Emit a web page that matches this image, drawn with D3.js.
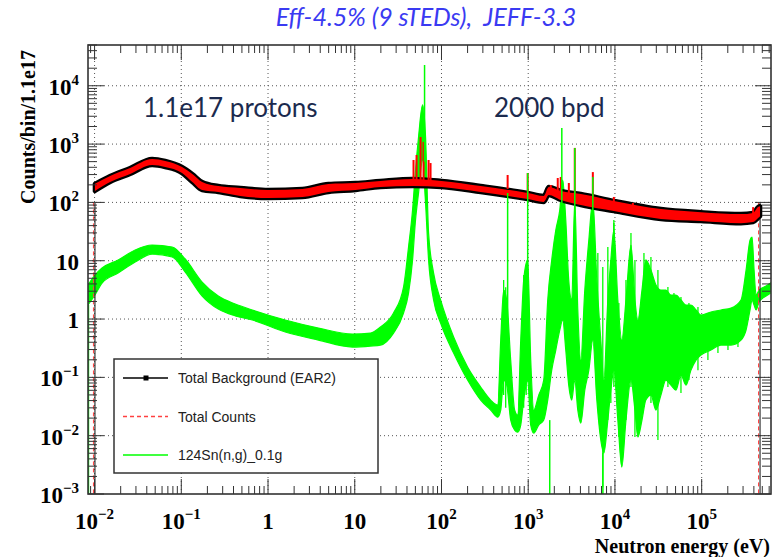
<!DOCTYPE html>
<html lang="en">
<head>
<meta charset="UTF-8">
<title>124Sn(n,g) - Eff-4.5% (9 sTEDs), JEFF-3.3</title>
<script src="https://cdn.jsdelivr.net/npm/d3@7"></script>
<style>
  body { margin: 0; background: #fff; }
  text { white-space: pre; }
</style>
</head>
<body>
<svg id="chart" width="780" height="557"></svg>
<script>
// values
// Total Counts band: [energy eV, low, high]
var totalBand = [
  [0.0101, 157, 208], [0.0151, 224, 284], [0.0257, 307, 389], [0.0461, 438, 555],
  [0.0652, 405, 513], [0.102, 319, 405], [0.134, 224, 307], [0.174, 163, 224],
  [0.267, 151, 191], [0.479, 129, 177], [1.0, 119, 163], [2.49, 124, 170],
  [4.97, 151, 207], [10.2, 163, 215], [19.8, 184, 233], [46.4, 191, 252],
  [100, 184, 233], [283, 151, 191], [986, 114, 145], [1510, 102, 129],
  [1725, 134, 184], [2374, 110, 157], [4040, 90, 139], [9710, 71, 106],
  [33900, 52, 77], [98000, 48, 68], [284000, 44, 63], [392000, 46, 66],
  [447000, 54, 83], [471000, 58, 86]
];
// red spikes where the Sn resonances stick out: [energy, base, peak]
var totalSpikes = [
  [47.6, 240, 534], [51.6, 240, 650], [57.4, 240, 1324], [62.1, 240, 1090],
  [71.0, 230, 534], [74.8, 230, 473], [579, 170, 295], [986, 140, 319],
  [1820, 150, 199], [2190, 150, 262], [2370, 150, 273], [2940, 140, 215],
  [3440, 130, 860], [5560, 110, 331], [9710, 100, 124], [16100, 85, 98],
  [392000, 60, 83]
];
// histogram edges of background / total
var histEdges = [0.0101, 471000];

// 124Sn(n,g) band: [energy, low, high]
var snBand = [
  [0.0084, 1.74, 3.83], [0.0101, 2.58, 5.68], [0.0122, 4.14, 7.50], [0.0187, 6.15, 10.3],
  [0.0294, 9.50, 15.3], [0.0461, 13.0, 18.6], [0.0785, 11.6, 17.2], [0.111, 6.40, 10.7],
  [0.174, 2.48, 4.31], [0.267, 1.48, 2.48], [0.419, 1.13, 1.81], [0.659, 0.962, 1.43],
  [1.58, 0.599, 0.962], [3.81, 0.436, 0.701], [9.40, 0.331, 0.553], [15.2, 0.344, 0.575],
  [19.8, 0.358, 0.729], [28.0, 0.575, 1.27], [36.5, 1.27, 3.54], [41.7, 2.79, 17.2],
  [46.4, 10.3, 74.1], [50.2, 49.9, 359], [54.4, 145, 1324], [60.5, 534, 4690],
  [65.5, 97.7, 1324], [71.0, 10.3, 29.9], [81.1, 2.12, 6.15], [97.7, 0.854, 2.12],
  [138, 0.261, 0.491], [200, 0.0899, 0.150], [283, 0.0408, 0.0682], [369, 0.0275, 0.0408],
  [445, 0.0208, 0.0335], [482, 0.0275, 0.436], [521, 0.0899, 3.14], [565, 0.0738, 2.12],
  [628, 0.0185, 0.198], [698, 0.0125, 0.0275], [757, 0.0115, 0.0226], [820, 0.0152, 0.436],
  [887, 0.0408, 4.67], [986, 0.0899, 10.3], [1069, 0.0152, 0.198], [1159, 0.0111, 0.0275],
  [1322, 0.0152, 0.0497], [1510, 0.0185, 0.0899], [1679, 0.0408, 2.12], [1867, 0.133, 10.3],
  [2080, 0.294, 33.6], [2311, 0.648, 74.1], [2500, 0.962, 242], [2710, 0.294, 49.9],
  [2931, 0.0738, 4.67], [3177, 0.0408, 2.12], [3443, 0.0899, 110], [3730, 0.0275, 1.43],
  [4040, 0.0164, 0.198], [4490, 0.0605, 3.14], [5000, 0.133, 22.6], [5560, 0.436, 110],
  [6180, 0.0408, 4.67], [6870, 0.00841, 0.436], [7450, 0.00503, 0.0899], [8280, 0.0185, 2.12],
  [8970, 0.0605, 10.3], [9710, 0.133, 33.6], [10800, 0.0185, 2.12], [12000, 0.00289, 0.436],
  [13400, 0.0185, 2.12], [15300, 0.0899, 18.6], [17000, 0.0275, 2.12], [18400, 0.00946, 0.962],
  [20500, 0.0185, 3.14], [22700, 0.0408, 10.3], [26000, 0.0497, 6.92], [29700, 0.0275, 3.83],
  [33900, 0.0497, 3.14], [38700, 0.0899, 3.14], [44200, 0.0738, 2.58], [50500, 0.0605, 2.58],
  [57700, 0.109, 2.12], [65900, 0.0738, 1.74], [75300, 0.133, 1.74], [86000, 0.198, 1.43],
  [98200, 0.241, 1.17], [128000, 0.294, 1.32], [167000, 0.358, 1.43], [218000, 0.358, 1.54],
  [284000, 0.436, 2.12], [325000, 0.648, 6.92], [361000, 1.43, 22.6], [381000, 2.12, 25.5],
  [402000, 1.74, 6.92], [424000, 1.43, 2.58], [459000, 1.96, 3.14], [553000, 2.48, 3.68],
  [649000, 2.90, 4.31]
];
// narrow resonance peaks: [energy, base, peak]
var snSpikes = [
  [63.8, 500, 22700], [579, 0.1, 145], [986, 0.1, 319], [2440, 1, 1890],
  [3443, 0.1, 857], [5560, 0.5, 273], [9710, 0.2, 44.3]
];
// single noisy bins in the resonance region: [energy, low, high]
var snBins = [
  [521, 0.05, 4.67], [550, 0.03, 3.5], [887, 0.03, 5.7], [948, 0.05, 8.4],
  [6350, 0.0682, 13.6], [7240, 0.00131, 7.80], [8280, 0.0185, 17.2], [8970, 0.0362, 10.3],
  [9710, 0.0682, 49.9], [11100, 0.00946, 1.88], [13400, 0.0185, 4.67], [15300, 0.0682, 29.9],
  [17000, 0.00946, 10.3], [21600, 0.0310, 13.6], [26000, 0.0362, 11.6], [31300, 0.00841, 6.92],
  [40800, 0.0682, 3.54], [47900, 0.119, 2.79], [57700, 0.0538, 2.38], [71300, 0.0899, 1.88],
  [90600, 0.133, 1.61], [118000, 0.198, 1.27], [154000, 0.261, 1.08], [201000, 0.294, 1.43],
  [262000, 0.331, 1.43]
];
// bins that fall to zero: [energy, from]
var snDrops = [[0.0085, 1.74], [1770, 0.0185], [7260, 0.00503]];

var xLabels = [[0.01, "10", "\u22122"], [0.1, "10", "\u22121"], [1, "1", ""], [10, "10", ""],
               [100, "10", "2"], [1000, "10", "3"], [10000, "10", "4"], [100000, "10", "5"]];
var yLabels = [[0.001, "10", "\u22123"], [0.01, "10", "\u22122"], [0.1, "10", "\u22121"], [1, "1", ""],
               [10, "10", ""], [100, "10", "2"], [1000, "10", "3"], [10000, "10", "4"]];

var svg = d3.select("#chart");
var padL = 88, padR = 771, padT = 45, padB = 494;

var x = d3.scaleLog().domain([0.0084, 6.3e5]).range([padL, padR]);
var y = d3.scaleLog().domain([1e-3, 5e4]).range([padB, padT]);

svg.append("defs").append("clipPath").attr("id", "plot")
  .append("rect").attr("x", padL).attr("y", padT).attr("width", padR - padL).attr("height", padB - padT);

// grid
var grid = svg.append("g").attr("stroke", "#555").attr("stroke-width", 1).attr("stroke-dasharray", "1,3");
xLabels.forEach(function (d) {
  grid.append("line").attr("x1", x(d[0])).attr("x2", x(d[0])).attr("y1", padT).attr("y2", padB);
});
yLabels.slice(1).forEach(function (d) {
  grid.append("line").attr("x1", padL).attr("x2", padR).attr("y1", y(d[0])).attr("y2", y(d[0]));
});

var plot = svg.append("g").attr("clip-path", "url(#plot)");

var band = d3.area()
  .x(function (d) { return x(d[0]); })
  .y0(function (d) { return y(d[1]); })
  .y1(function (d) { return y(d[2]); })
  .curve(d3.curveMonotoneX);

function vlines(g, cls, data, color, width) {
  g.selectAll("line." + cls).data(data).enter().append("line")
    .attr("class", cls)
    .attr("x1", function (d) { return x(d[0]); }).attr("x2", function (d) { return x(d[0]); })
    .attr("y1", function (d) { return y(d[1]); }).attr("y2", function (d) { return y(d[2]); })
    .attr("stroke", color).attr("stroke-width", width);
}

// 124Sn(n,g)
plot.append("path").datum(snBand).attr("d", band)
  .attr("fill", "#00ff00").attr("stroke", "#00ff00").attr("stroke-width", 1.2);
vlines(plot, "bin", snBins, "#00ff00", 1.3);
plot.selectAll("line.drop").data(snDrops).enter().append("line")
  .attr("class", "drop")
  .attr("x1", function (d) { return x(d[0]); }).attr("x2", function (d) { return x(d[0]); })
  .attr("y1", function (d) { return y(d[1]); }).attr("y2", padB + 5)
  .attr("stroke", "#00ff00").attr("stroke-width", 1.5);

// background edges (drop to zero) and band
plot.selectAll("line.edge").data(histEdges).enter().append("line")
  .attr("class", "edge")
  .attr("x1", function (d) { return x(d); }).attr("x2", function (d) { return x(d); })
  .attr("y1", y(100)).attr("y2", padB + 5)
  .attr("stroke", "#333").attr("stroke-width", 1.2);
plot.selectAll("line.edgeRed").data(histEdges).enter().append("line")
  .attr("class", "edgeRed")
  .attr("x1", function (d) { return x(d) - 1.5; }).attr("x2", function (d) { return x(d) - 1.5; })
  .attr("y1", y(100)).attr("y2", padB)
  .attr("stroke", "#ff4040").attr("stroke-width", 1).attr("stroke-dasharray", "4,3");

plot.append("path").datum(totalBand).attr("d", band)
  .attr("fill", "#000").attr("stroke", "#000").attr("stroke-width", 4.5).attr("stroke-linejoin", "round");
vlines(plot, "tspike", totalSpikes, "#ff0000", 2);
plot.append("path").datum(totalBand).attr("d", band).attr("fill", "#ff0000");

vlines(plot, "sspike", snSpikes, "#00ff00", 1.5);

// frame and ticks
svg.append("rect").attr("x", padL).attr("y", padT).attr("width", padR - padL).attr("height", padB - padT)
  .attr("fill", "none").attr("stroke", "#333").attr("stroke-width", 1.6);

function isMajor(t) { var l = Math.log10(t); return Math.abs(l - Math.round(l)) < 1e-6; }
var ticks = svg.append("g").attr("stroke", "#333").attr("stroke-width", 1);
x.ticks(10).forEach(function (t) {
  var len = isMajor(t) ? 15 : 8;
  ticks.append("line").attr("x1", x(t)).attr("x2", x(t)).attr("y1", padB).attr("y2", padB - len);
  ticks.append("line").attr("x1", x(t)).attr("x2", x(t)).attr("y1", padT).attr("y2", padT + len);
});
y.ticks(10).forEach(function (t) {
  var len = isMajor(t) ? 16 : 9;
  ticks.append("line").attr("x1", padL).attr("x2", padL + len).attr("y1", y(t)).attr("y2", y(t));
  ticks.append("line").attr("x1", padR).attr("x2", padR - len).attr("y1", y(t)).attr("y2", y(t));
});

// tick labels
var serif = "'Liberation Serif', 'Times New Roman', serif";
function powLabel(sel, base, exp) {
  sel.append("tspan").text(base);
  if (exp) sel.append("tspan").attr("font-size", 15).attr("dy", -10).text(exp);
}
xLabels.forEach(function (d) {
  var t = svg.append("text").attr("x", x(d[0])).attr("y", 529)
    .attr("text-anchor", "middle").attr("font-family", serif).attr("font-weight", "bold").attr("font-size", 23);
  powLabel(t, d[1], d[2]);
});
yLabels.forEach(function (d) {
  var t = svg.append("text").attr("x", 79).attr("y", y(d[0]) + 9)
    .attr("text-anchor", "end").attr("font-family", serif).attr("font-weight", "bold").attr("font-size", 23);
  powLabel(t, d[1], d[2]);
});

// axis titles
svg.append("text").attr("transform", "translate(35,50) rotate(-90)")
  .attr("text-anchor", "end").attr("font-family", serif).attr("font-weight", "bold").attr("font-size", 20)
  .text("Counts/bin/1.1e17");
svg.append("text").attr("x", 770).attr("y", 553)
  .attr("text-anchor", "end").attr("font-family", serif).attr("font-weight", "bold").attr("font-size", 20)
  .text("Neutron energy (eV)");

// title and annotations
svg.append("text").attr("x", 426).attr("y", 26).attr("text-anchor", "middle")
  .attr("font-family", "Lato, 'Open Sans', sans-serif").attr("font-style", "italic").attr("font-size", 25)
  .attr("fill", "#3a3af2").text("Eff-4.5% (9 sTEDs),  JEFF-3.3");
svg.append("text").attr("x", 143).attr("y", 117)
  .attr("font-family", "Lato, 'Open Sans', sans-serif").attr("font-size", 26)
  .attr("fill", "#1b2a4e").text("1.1e17 protons");
svg.append("text").attr("x", 494).attr("y", 117)
  .attr("font-family", "Lato, 'Open Sans', sans-serif").attr("font-size", 26)
  .attr("fill", "#1b2a4e").text("2000 bpd");

// legend
var legend = svg.append("g");
legend.append("rect").attr("x", 114).attr("y", 359).attr("width", 264).attr("height", 114)
  .attr("fill", "#fff").attr("stroke", "#333").attr("stroke-width", 1.5);
var entries = [
  { label: "Total Background (EAR2)", color: "#000", dash: null, marker: true },
  { label: "Total Counts", color: "#ff4040", dash: "4,3", marker: false },
  { label: "124Sn(n,g)_0.1g", color: "#00ff00", dash: null, marker: false }
];
entries.forEach(function (e, i) {
  var ly = 378 + i * 38.5;
  legend.append("line").attr("x1", 123).attr("x2", 168).attr("y1", ly).attr("y2", ly)
    .attr("stroke", e.color).attr("stroke-width", 1.3).attr("stroke-dasharray", e.dash);
  if (e.marker) legend.append("rect").attr("x", 143.5).attr("y", ly - 2.5).attr("width", 5).attr("height", 5).attr("fill", "#000");
  legend.append("text").attr("x", 178).attr("y", ly + 5)
    .attr("font-family", "'Liberation Sans', Arial, sans-serif").attr("font-size", 14).attr("fill", "#222")
    .text(e.label);
});
</script>
</body>
</html>
